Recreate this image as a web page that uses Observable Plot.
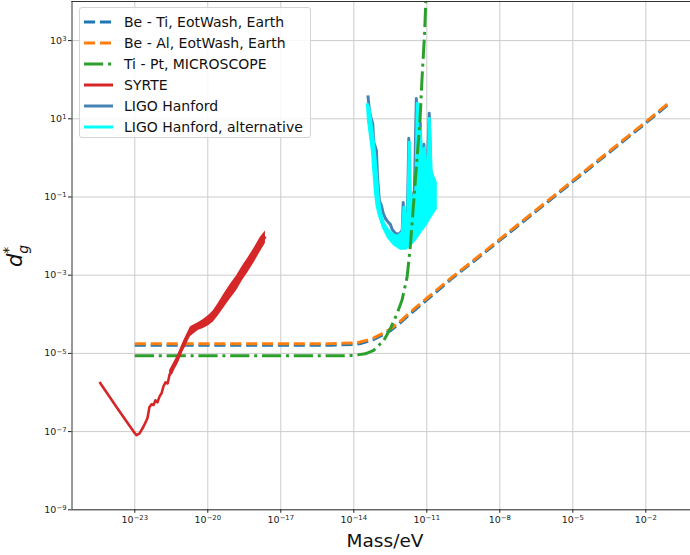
<!DOCTYPE html>
<html>
<head>
<meta charset="utf-8">
<script src="https://cdn.jsdelivr.net/npm/d3@7"></script>
<script src="https://cdn.jsdelivr.net/npm/@observablehq/plot@0.6"></script>
<style>
  html, body { margin: 0; padding: 0; background: #fff; }
  #wrap { position: relative; width: 690px; height: 555px; background: #fff; font-family: "DejaVu Sans", sans-serif; overflow: hidden; }
  #legend { position: absolute; left: 79px; top: 7px; width: 230px; height: 129px; background: rgba(255,255,255,0.85); border: 1px solid #d4d4d4; border-radius: 3px; }
  .lrow { position: absolute; left: 0; height: 20px; }
  .lrow svg { position: absolute; left: 4px; top: 5px; }
  .lrow span { position: absolute; left: 44px; top: 1px; font-size: 14px; line-height: 18px; white-space: nowrap; color: #111; }
  #xlabel { position: absolute; left: 385px; top: 530px; transform: translateX(-50%); font-size: 18.5px; line-height: 22px; color: #111; white-space: nowrap; }
  #ylab { position: absolute; left: 0; top: 0; }
</style>
</head>
<body>
<div id="wrap">
  <div id="chart"></div>
  <div id="legend"></div>
  <div id="xlabel">Mass/eV</div>
  <svg id="ylab" width="60" height="555">
    <g transform="translate(22,267) rotate(-90)">
      <text x="0" y="0" font-family="DejaVu Sans" font-size="21" font-style="italic" fill="#111">d<tspan dy="-9" font-size="14" font-style="normal">*</tspan><tspan dx="-7" dy="15" font-size="14">g</tspan></text>
    </g>
  </svg>
</div>
<script>
// ---- Data (log10 values) ----
// EotWash (Be-Ti, Be-Al)
const eotLogMass = [-23, -20, -17, -15, -14.5, -14.0, -13.73, -13.45, -13.2, -12.85, -12.5, -12.15, -11.81, -11.4, -11.0, -10.5, -10.0, -9.0, -8.0, -6.0, -4.0, -2.0, -1.07];
const beAlLogD   = [-4.75, -4.75, -4.75, -4.75, -4.74, -4.73, -4.71, -4.66, -4.61, -4.50, -4.38, -4.21, -4.02, -3.80, -3.59, -3.33, -3.07, -2.58, -2.08, -1.08, -0.08, 0.92, 1.40];
const beTiLogD   = [-4.79, -4.79, -4.79, -4.79, -4.78, -4.77, -4.75, -4.70, -4.65, -4.54, -4.42, -4.25, -4.06, -3.84, -3.63, -3.37, -3.10, -2.61, -2.11, -1.11, -0.11, 0.89, 1.37];

// MICROSCOPE (Ti-Pt)
const micLogMass = [-23, -20, -17, -15, -14.5, -14.0, -13.53, -13.18, -12.77, -12.50, -12.22, -12.02, -11.81, -11.68, -11.47, -11.28, -11.20, -11.09, -11.04, -10.98];
const tiPtLogD   = [-5.06, -5.06, -5.06, -5.06, -5.06, -5.05, -5.01, -4.92, -4.67, -4.37, -3.98, -3.64, -3.05, -2.28, -0.57, 0.96, 1.99, 3.19, 4.03, 5.0];

// SYRTE
const syrteLogMass = [-24.45, -23.71, -23.05, -22.93, -22.81, -22.64, -22.48, -22.40, -22.31, -22.23, -22.15, -22.07, -21.98, -21.90, -21.82, -21.74, -21.65, -21.57, -21.49, -21.37, -21.25, -21.12, -21.00, -20.88, -20.71, -20.55, -20.38, -20.18, -19.97, -19.77, -19.56, -19.32, -19.07, -18.82, -18.58, -18.33, -18.08, -17.84, -17.63];
const syrteLogD    = [-5.73, -6.41, -7.00, -7.09, -7.05, -6.87, -6.66, -6.38, -6.30, -6.32, -6.20, -6.25, -6.10, -6.02, -5.84, -5.74, -5.77, -5.54, -5.49, -5.28, -5.18, -4.95, -4.82, -4.62, -4.44, -4.36, -4.31, -4.25, -4.16, -4.05, -3.87, -3.64, -3.41, -3.21, -2.95, -2.72, -2.47, -2.21, -2.01];
// SYRTE noise band (upper part)
const syrteBandLogMass = [-21.57, -21.25, -21.00, -20.71, -20.38, -20.18, -19.97, -19.77, -19.56, -19.32, -19.07, -18.82, -18.58, -18.33, -18.08, -17.84, -17.63];
const syrteBandLo      = [-5.64, -5.30, -4.93, -4.57, -4.41, -4.36, -4.29, -4.20, -4.03, -3.82, -3.60, -3.40, -3.14, -2.91, -2.66, -2.40, -2.18];
const syrteBandHi      = [-5.44, -5.06, -4.69, -4.32, -4.21, -4.13, -4.03, -3.91, -3.71, -3.47, -3.23, -3.02, -2.77, -2.54, -2.29, -2.03, -1.87];

// LIGO Hanford
const ligoLogMass = [-13.42, -13.36, -13.30, -13.22, -13.18, -13.07, -13.03, -12.95, -12.87, -12.79, -12.70, -12.58, -12.50, -12.42, -12.29, -12.13, -12.01, -11.97, -11.92, -11.84, -11.80, -11.74, -11.68, -11.60, -11.51, -11.43, -11.37, -11.27, -11.23, -11.12, -11.06, -10.98, -10.90, -10.84, -10.77, -10.69];
const ligoLogD    = [1.60, 1.22, 1.04, 0.86, 0.40, 0.19, -0.45, -1.09, -1.21, -1.42, -1.55, -1.65, -1.70, -1.83, -1.93, -1.95, -1.85, -1.14, -1.72, -1.47, -1.60, 0.50, -1.34, -1.09, -0.83, 1.52, -0.45, 0.89, -0.32, 0.35, -0.45, -0.19, 1.14, -0.32, -0.47, -0.57];

// LIGO Hanford, alternative (outline of the dense band)
const ligoAltLogMass = [-13.44, -13.40, -13.32, -13.24, -13.18, -13.12, -13.05, -12.95, -12.79, -12.58, -12.34, -12.09, -11.88, -11.68, -11.47, -11.27, -11.06, -10.86, -10.65,
                        -10.65, -10.73, -10.82, -10.90, -10.94, -11.02, -11.10, -11.19, -11.27, -11.33, -11.39, -11.45, -11.55, -11.68, -11.72, -11.78, -11.88, -11.94, -12.01,
                        -12.21, -12.42, -12.62, -12.79, -12.91, -12.99, -13.05, -13.12, -13.20, -13.28, -13.36];
const ligoAltLogD    = [1.37, 0.96, 0.58, 0.19, -0.32, -0.83, -1.21, -1.47, -1.77, -2.03, -2.21, -2.31, -2.31, -2.21, -2.06, -1.88, -1.70, -1.49, -1.29,
                        -0.62, -0.52, -0.37, 1.01, -0.32, -0.27, 0.25, -0.32, 0.76, -0.37, 1.40, -0.83, -0.98, -1.21, 0.40, -1.39, -1.55, -1.26, -1.91,
                        -2.01, -1.95, -1.83, -1.65, -1.39, -1.03, -0.57, -0.06, 0.45, 0.83, 1.22];

// Axes
const xTickExps = [-23, -20, -17, -14, -11, -8, -5, -2];
const yTickExps = [-9, -7, -5, -3, -1, 1, 3];
const xDomainExp = [-25.58, -0.164];
const yDomainExp = [-9, 4];

// Legend
const legendLabels = ["Be - Ti, EotWash, Earth", "Be - Al, EotWash, Earth", "Ti - Pt, MICROSCOPE", "SYRTE", "LIGO Hanford", "LIGO Hanford, alternative"];
const colors = ["#1f77b4", "#ff7f0e", "#2ca02c", "#d62728", "#4682b4", "#00ffff"];
const dashes = ["11.1,4.8", "11.1,4.8", "19.2,4.8,3,4.8", null, null, null];

// ---- Build ----
const p10 = e => Math.pow(10, e);
const pts = (xs, ys) => xs.map((x, i) => ({x: p10(x), y: p10(ys[i])}));
const fmt = d => "10^" + Math.round(Math.log10(d));

const beTi = pts(eotLogMass, beTiLogD);
const beAl = pts(eotLogMass, beAlLogD);
const tiPt = pts(micLogMass, tiPtLogD);
const syrte = pts(syrteLogMass, syrteLogD);
const syrteBand = syrteBandLogMass.map((x, i) => ({x: p10(x), y1: p10(syrteBandLo[i]), y2: p10(syrteBandHi[i])}));
const ligo = pts(ligoLogMass, ligoLogD);
const ligoAlt = pts(ligoAltLogMass, ligoAltLogD);
const xTicks = xTickExps.map(p10);
const yTicks = yTickExps.map(p10);

const common = {x: "x", y: "y", clip: true, strokeLinecap: "butt", strokeLinejoin: "round"};

const chart = Plot.plot({
  width: 690,
  height: 555,
  marginLeft: 71.5,
  marginRight: 0,
  marginTop: 1,
  marginBottom: 45.7,
  style: {fontFamily: "DejaVu Sans", background: "white", color: "#222", overflow: "hidden"},
  x: {type: "log", domain: xDomainExp.map(p10)},
  y: {type: "log", domain: yDomainExp.map(p10)},
  marks: [
    Plot.gridX(xTicks, {stroke: "#cccccc", strokeOpacity: 1, strokeWidth: 1}),
    Plot.gridY(yTicks, {stroke: "#cccccc", strokeOpacity: 1, strokeWidth: 1}),
    Plot.line(beTi, {...common, stroke: colors[0], strokeWidth: 3, strokeDasharray: dashes[0]}),
    Plot.line(beAl, {...common, stroke: colors[1], strokeWidth: 3, strokeDasharray: dashes[1]}),
    Plot.line(ligo, {...common, stroke: colors[4], strokeWidth: 3}),
    Plot.line(ligoAlt, {...common, stroke: colors[5], fill: colors[5], strokeWidth: 3, curve: "linear-closed"}),
    Plot.line(tiPt, {...common, stroke: colors[2], strokeWidth: 3, strokeDasharray: dashes[2]}),
    Plot.areaY(syrteBand, {x: "x", y1: "y1", y2: "y2", fill: colors[3], clip: true}),
    Plot.line(syrte, {...common, stroke: colors[3], strokeWidth: 2.6}),
    Plot.ruleX([p10(xDomainExp[0])], {stroke: "#333", strokeWidth: 1}),
    Plot.ruleY([p10(yDomainExp[0])], {stroke: "#333", strokeWidth: 1}),
    Plot.ruleY([p10(yDomainExp[1])], {stroke: "#333", strokeWidth: 1}),
    Plot.axisX(xTicks, {tickSize: 3.5, tickPadding: 3, tickFormat: fmt, fontSize: 9.5, label: null}),
    Plot.axisY(yTicks, {tickSize: 3.5, tickPadding: 2, tickFormat: fmt, fontSize: 9.5, label: null})
  ]
});

// Render "10^n" tick labels as 10 with a raised exponent
chart.querySelectorAll("text").forEach(t => {
  const s = t.textContent;
  const m = /^10\^(-?\d+)$/.exec(s);
  if (!m) return;
  while (t.firstChild) t.removeChild(t.firstChild);
  const ns = "http://www.w3.org/2000/svg";
  const a = document.createElementNS(ns, "tspan");
  a.textContent = "10";
  const b = document.createElementNS(ns, "tspan");
  b.textContent = m[1].replace("-", "\u2212");
  b.setAttribute("dy", "-0.42em");
  b.setAttribute("font-size", "0.72em");
  t.appendChild(a);
  t.appendChild(b);
});
document.getElementById("chart").appendChild(chart);

// Legend
const leg = document.getElementById("legend");
legendLabels.forEach((lab, i) => {
  const row = document.createElement("div");
  row.className = "lrow";
  row.style.top = (3.7 + 21 * i) + "px";
  const dash = dashes[i] ? `stroke-dasharray="${dashes[i]}"` : "";
  row.innerHTML = `<svg width="32" height="10"><line x1="0" y1="5" x2="29" y2="5" stroke="${colors[i]}" stroke-width="3" ${dash}/></svg><span>${lab}</span>`;
  leg.appendChild(row);
});
</script>
</body>
</html>
